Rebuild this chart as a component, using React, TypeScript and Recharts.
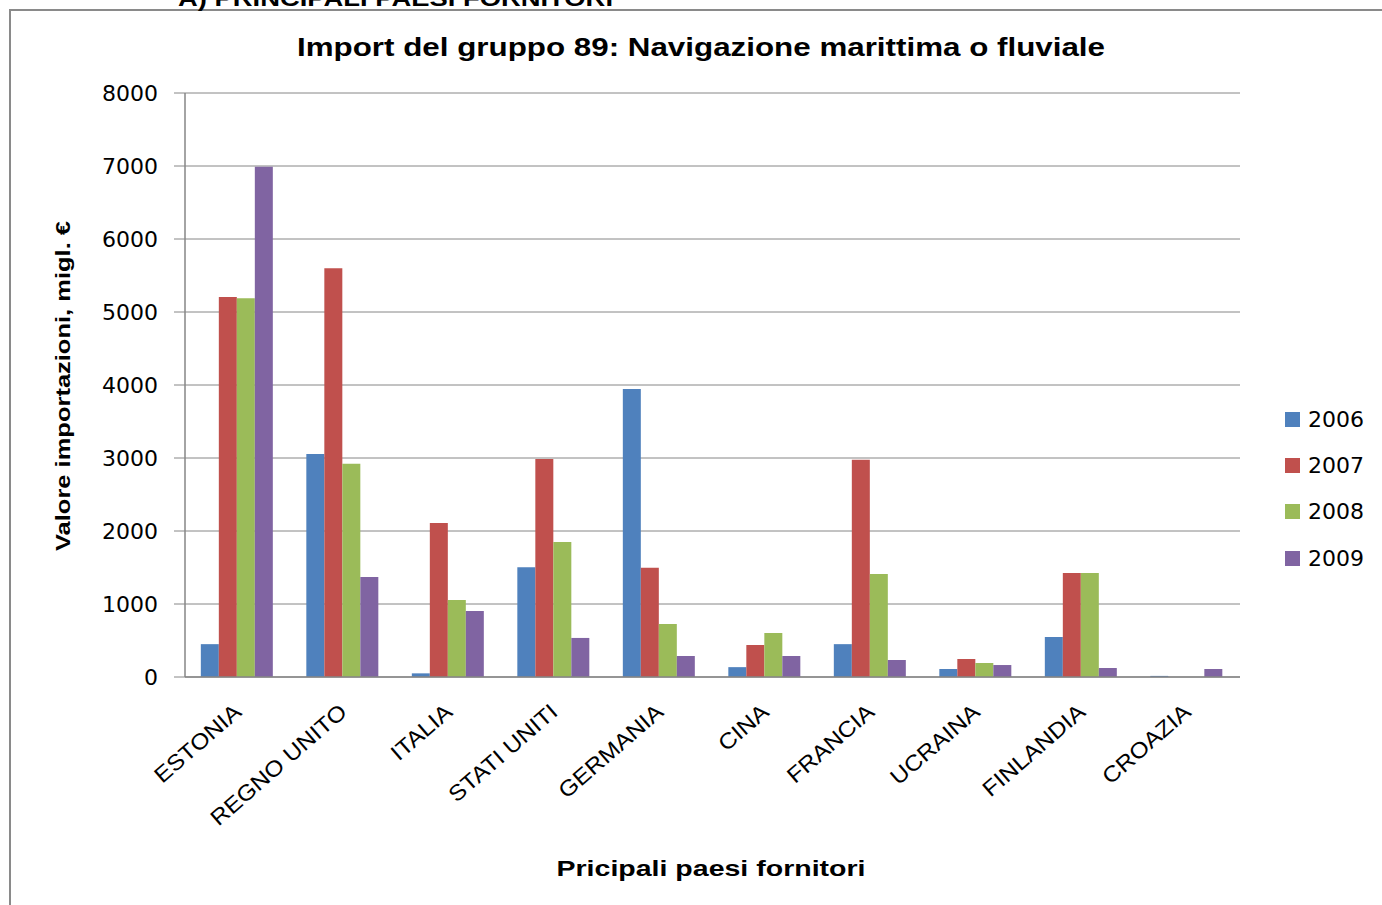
import React from 'react';
import { BarChart, Bar, XAxis, YAxis, CartesianGrid } from 'recharts';

const categories = ['ESTONIA', 'REGNO UNITO', 'ITALIA', 'STATI UNITI', 'GERMANIA', 'CINA', 'FRANCIA', 'UCRAINA', 'FINLANDIA', 'CROAZIA'];
const v2006 = [450, 3055, 50, 1505, 3945, 135, 450, 110, 548, 15];
const v2007 = [5205, 5600, 2110, 2985, 1495, 438, 2975, 247, 1425, 0];
const v2008 = [5190, 2920, 1055, 1850, 725, 603, 1410, 192, 1425, 0];
const v2009 = [6990, 1370, 905, 535, 288, 288, 233, 164, 123, 110];
const years = ['2006', '2007', '2008', '2009'];
const colors = ['#4F81BD', '#C0504D', '#9BBB59', '#8064A2'];
const yTicks = [0, 1000, 2000, 3000, 4000, 5000, 6000, 7000, 8000];

const data = categories.map((c, i) => ({
  name: c,
  '2006': v2006[i],
  '2007': v2007[i],
  '2008': v2008[i],
  '2009': v2009[i],
}));

const XTick = (props: any) => {
  const { x, y, payload } = props;
  return (
    <text
      x={0}
      y={0}
      textAnchor="end"
      fontFamily="Liberation Sans, Arial, sans-serif"
      fontSize={22}
      fill="#000"
      transform={`translate(${x + 5},${y + 29}) rotate(-41) scale(1.11,1)`}
    >
      {payload.value}
    </text>
  );
};

export default function App() {
  return (
    <div style={{ position: 'fixed', left: 0, top: 0, width: 1382, height: 905, background: '#fff', overflow: 'hidden' }}>
      <div style={{ position: 'absolute', left: 9, top: 9, width: 1400, height: 1000, borderLeft: '2px solid #8a8a8a', borderTop: '2px solid #8a8a8a' }} />
      <div style={{ position: 'absolute', left: 0, top: 0 }}>
        <BarChart
          width={1382}
          height={905}
          data={data}
          margin={{ top: 93, right: 142, bottom: 78, left: 0 }}
          barCategoryGap="15%"
          barGap={0}
        >
          <text x={178} y={6} fontFamily="Liberation Sans, Arial, sans-serif" fontWeight="bold" fontSize={22} fill="#000" textLength={435} lengthAdjust="spacingAndGlyphs">
            A) PRINCIPALI PAESI FORNITORI
          </text>
          <text x={701} y={56} textAnchor="middle" fontFamily="Liberation Sans, Arial, sans-serif" fontWeight="bold" fontSize={26} fill="#000" textLength={808} lengthAdjust="spacingAndGlyphs">
            Import del gruppo 89: Navigazione marittima o fluviale
          </text>
          <text
            x={0}
            y={0}
            textAnchor="middle"
            fontFamily="Liberation Sans, Arial, sans-serif"
            fontWeight="bold"
            fontSize={21}
            fill="#000"
            textLength={330}
            lengthAdjust="spacingAndGlyphs"
            transform="translate(70,386) rotate(-90)"
          >
            Valore importazioni, migl. €
          </text>
          <text x={711} y={876} textAnchor="middle" fontFamily="Liberation Sans, Arial, sans-serif" fontWeight="bold" fontSize={22} fill="#000" textLength={309} lengthAdjust="spacingAndGlyphs">
            Pricipali paesi fornitori
          </text>
          <CartesianGrid vertical={false} stroke="#868686" strokeWidth={1} />
          <XAxis
            dataKey="name"
            height={150}
            interval={0}
            tickLine={false}
            axisLine={{ stroke: '#868686', strokeWidth: 1.5 }}
            tick={<XTick />}
          />
          <YAxis
            width={185}
            domain={[0, 8000]}
            ticks={yTicks}
            interval={0}
            tickSize={11}
            tickMargin={16}
            axisLine={{ stroke: '#868686', strokeWidth: 1.5 }}
            tickLine={{ stroke: '#868686', strokeWidth: 1 }}
            tick={{ fill: '#000', fontSize: 22, fontFamily: 'DejaVu Sans, sans-serif' }}
          />
          {years.map((y, i) => (
            <Bar key={y} dataKey={y} fill={colors[i]} isAnimationActive={false} />
          ))}
        </BarChart>
      </div>
      <div style={{ position: 'absolute', left: 1285, top: 396, fontFamily: 'DejaVu Sans, sans-serif', fontSize: 22, color: '#000' }}>
        {years.map((y, i) => (
          <div key={y} style={{ display: 'flex', alignItems: 'center', height: 46.3 }}>
            <div style={{ width: 15, height: 15, background: colors[i], marginRight: 8 }} />
            <span>{y}</span>
          </div>
        ))}
      </div>
    </div>
  );
}
